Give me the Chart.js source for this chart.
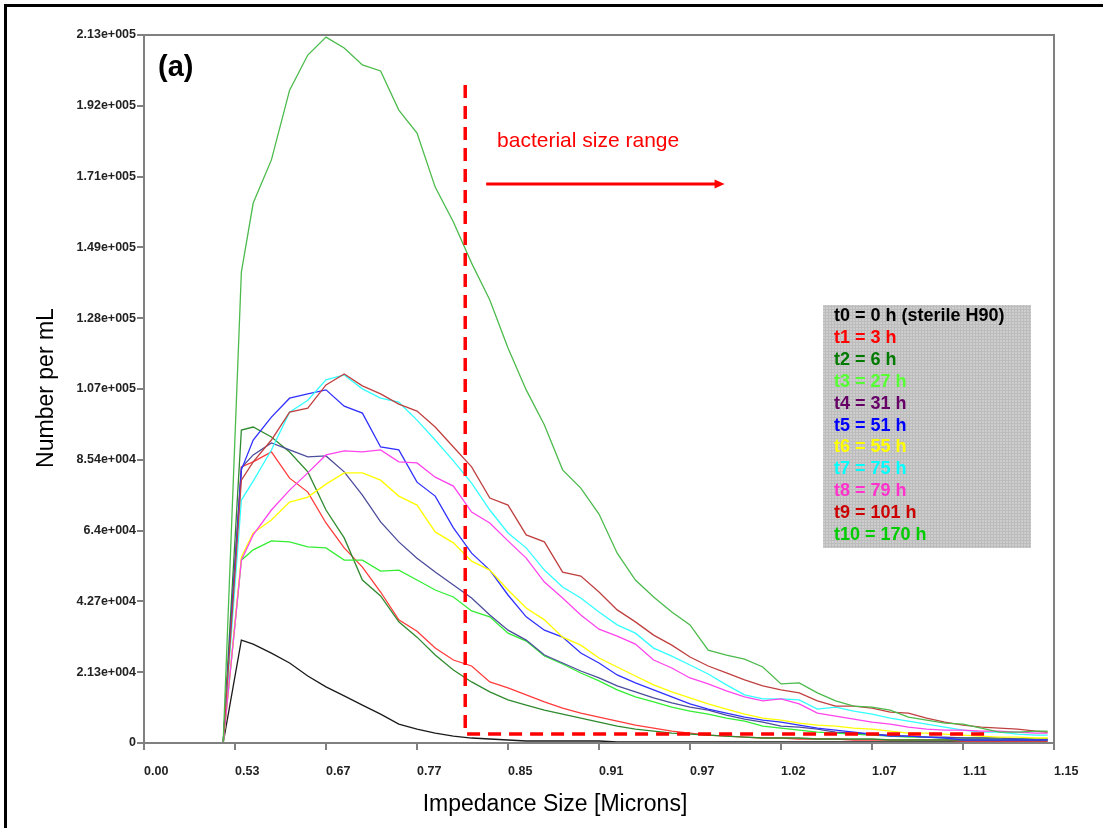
<!DOCTYPE html>
<html>
<head>
<meta charset="utf-8">
<script src="https://cdn.jsdelivr.net/npm/chart.js@4.4.0/dist/chart.umd.min.js"></script>
<style>
  html, body { margin: 0; padding: 0; background: #fff; }
  canvas { display: block; }
</style>
</head>
<body>
<canvas id="grafico" width="1103" height="828"></canvas>
<script>
// posicao dos canais (0..10 = marcas do eixo x)
const xPos = [0, 0.87, 1.07, 1.2, 1.4, 1.6, 1.8, 2.0, 2.2, 2.4, 2.6, 2.8, 3.0, 3.2, 3.4, 3.6, 3.8, 4.0,
  4.2, 4.4, 4.6, 4.8, 5.0, 5.2, 5.4, 5.6, 5.8, 6.0, 6.2, 6.4, 6.6, 6.8, 7.0, 7.2, 7.4, 7.6, 7.8, 8.0,
  8.2, 8.4, 8.6, 8.8, 9.0, 9.2, 9.4, 9.6, 9.8, 9.93];
const xTickLabels = ['0.00', '0.53', '0.67', '0.77', '0.85', '0.91', '0.97', '1.02', '1.07', '1.11', '1.15'];
const yTickValues = [0, 21333, 42667, 64000, 85333, 106667, 128000, 149333, 170667, 192000, 213333];
const yTickLabels = ['0', '2.13e+004', '4.27e+004', '6.4e+004', '8.54e+004', '1.07e+005', '1.28e+005',
  '1.49e+005', '1.71e+005', '1.92e+005', '2.13e+005'];

const t0 = [0, 0, 31000, 29800, 27100, 24100, 20200, 16900, 14200, 11400, 8700, 5700, 4200, 3000, 2100, 1500,
  1200, 900, 600, 600, 600, 600, 600, 300, 300, 300, 300, 300, 300, 300, 300, 300, 300, 300, 300, 300, 300,
  300, 300, 300, 300, 300, 300, 300, 300, 300, 300, 300];
const t1 = [0, 0, 83200, 84700, 87700, 79800, 75600, 66300, 58800, 53000, 45500, 37100, 33700, 28600, 25000,
  23200, 18400, 16600, 14500, 12400, 10500, 9000, 7800, 6600, 5400, 4500, 3600, 3000, 2400, 2100, 1800, 1500,
  1500, 1200, 1200, 1200, 900, 900, 900, 900, 900, 900, 600, 600, 600, 600, 600, 600];
const t2 = [0, 0, 94300, 95200, 92200, 87700, 81700, 70200, 61800, 49100, 44300, 36500, 31900, 26500, 22000,
  18400, 15400, 13000, 11400, 9900, 8700, 7500, 6300, 5100, 4200, 3600, 3000, 2700, 2400, 2100, 1800, 1500,
  1500, 1500, 1200, 1200, 1200, 1200, 900, 900, 900, 900, 900, 900, 900, 900, 900, 900];
const t3 = [0, 0, 55100, 58200, 60900, 60600, 59100, 58800, 55100, 55100, 51800, 52100, 49100, 46100, 44000,
  39800, 38000, 33100, 30700, 26200, 23800, 21100, 18700, 16000, 13900, 12400, 10800, 9600, 8700, 7500, 6600,
  5100, 4500, 3900, 3300, 3000, 2700, 2400, 2100, 1800, 1800, 1500, 1500, 1500, 1200, 1200, 1200, 1200];
const t4 = [0, 0, 82900, 86800, 90400, 88300, 86200, 86500, 81700, 74700, 66600, 60600, 55700, 51500, 47600,
  43700, 38600, 34000, 31000, 26500, 24100, 21700, 19600, 17200, 15400, 13600, 12100, 10800, 9900, 8400, 7200,
  6300, 5100, 4800, 4200, 3300, 3000, 2700, 2400, 2100, 1800, 1800, 1500, 1500, 1500, 1200, 1200, 1200];
const t5 = [0, 0, 82300, 91300, 98200, 103900, 105200, 106400, 101500, 99400, 89200, 88300, 78600, 74400, 64800,
  57200, 52100, 44600, 38000, 34000, 31900, 27100, 24100, 20500, 18100, 16000, 13900, 11800, 10200, 9000, 7800,
  6900, 6300, 5400, 4500, 3900, 3300, 2700, 2100, 2100, 1800, 1500, 900, 900, 900, 900, 900, 900];
const t6 = [0, 0, 56000, 63300, 67200, 72600, 74100, 78000, 81400, 81400, 79200, 74400, 71700, 63600, 60300,
  54800, 52100, 46100, 40700, 37100, 31900, 29500, 25600, 22900, 20200, 17500, 15400, 13600, 11800, 10200, 8700,
  7500, 6900, 6000, 5400, 5100, 4500, 4200, 3600, 3000, 3000, 2700, 2400, 2100, 1800, 1800, 1500, 1500];
const t7 = [0, 0, 73200, 78900, 88300, 99700, 103300, 109400, 110900, 106700, 103900, 102700, 97300, 91300, 85000,
  78300, 70200, 63300, 58800, 52100, 47000, 43700, 39500, 35600, 33100, 28600, 26200, 23500, 20800, 17500, 14500,
  13300, 13300, 13000, 10200, 10800, 9600, 8700, 7500, 6600, 5700, 4800, 3900, 3300, 3300, 2700, 2400, 2400];
const t8 = [0, 0, 55100, 62700, 70200, 76200, 81400, 86800, 88000, 87700, 88300, 84700, 84400, 80100, 77400,
  69600, 66300, 60900, 55700, 48500, 43700, 38600, 34300, 32200, 29800, 25000, 22600, 19600, 17800, 15700, 13900,
  12700, 13300, 11800, 9000, 8100, 7200, 6300, 5700, 4800, 4200, 3900, 3900, 3600, 3600, 3300, 3000, 3000];
const t9 = [0, 0, 79200, 84700, 91300, 99700, 100900, 107900, 111200, 107600, 105200, 102100, 100000, 95200, 89200,
  83200, 73800, 71700, 62700, 60600, 51500, 50300, 45500, 40100, 36500, 32500, 29500, 25900, 23200, 21100, 19000,
  17200, 16000, 15100, 12700, 11100, 11100, 10500, 9300, 9000, 7500, 6300, 5400, 4800, 4500, 4200, 3600, 3300];
const t10 = [0, 0, 141900, 162700, 175700, 196700, 207300, 212700, 209400, 204300, 202500, 190700, 183800, 167500,
  157000, 144600, 133500, 119000, 106400, 95800, 82300, 76800, 69000, 57200, 49100, 44000, 39500, 35600, 28000,
  26500, 25300, 22900, 17800, 18100, 15100, 12700, 11100, 10800, 9900, 7800, 6900, 6000, 5700, 4500, 3300, 3300,
  3600, 3600];

const series = [t0, t1, t2, t3, t4, t5, t6, t7, t8, t9, t10];
const seriesNames = ['t0 = 0 h (sterile H90)', 't1 = 3 h', 't2 = 6 h', 't3 = 27 h', 't4 = 31 h', 't5 = 51 h',
  't6 = 55 h', 't7 = 75 h', 't8 = 79 h', 't9 = 101 h', 't10 = 170 h'];
const lineColors = ['#1a1a1a', '#ff3b3b', '#2f8a2f', '#33ee33', '#4c4c9c', '#3030ff', '#ffff00', '#33ffff',
  '#ff44ee', '#c04040', '#4cbb4c'];
const legendColors = ['#000000', '#ff0000', '#007a00', '#55ff33', '#660066', '#0000ff', '#ffff00', '#00ffff',
  '#ff33cc', '#cc0000', '#00cc00'];

// faixa de tamanho bacteriano (linha tracejada e seta)
const rangeStart = 3.53, rangeEnd = 9.32, rangeTop = 198300, rangeFloor = 2700;
const arrowFrom = 3.76, arrowTo = 6.38, arrowLevel = 168400;
const labelX = 3.88, labelLevel = 179600;

const FONT = "'Liberation Sans', Arial, sans-serif";

function padraoLegenda(ctx) {
    const c = document.createElement('canvas');
    c.width = 3; c.height = 3;
    const p = c.getContext('2d');
    p.fillStyle = '#cdcdcd';
    p.fillRect(0, 0, 3, 3);
    p.fillStyle = '#bcbcbc';
    p.fillRect(0, 0, 3, 1);
    p.fillRect(0, 0, 1, 3);
    return ctx.createPattern(c, 'repeat');
}

const extras = {
    id: 'extras',
    afterDraw(chart) {
        const ctx = chart.ctx;
        const a = chart.chartArea;
        const sx = chart.scales.x, sy = chart.scales.y;
        ctx.save();

        // moldura do grafico
        ctx.strokeStyle = '#808080';
        ctx.lineWidth = 2;
        ctx.strokeRect(a.left, a.top, a.right - a.left, a.bottom - a.top);

        // borda externa
        ctx.strokeStyle = '#000';
        ctx.lineWidth = 3;
        ctx.beginPath();
        ctx.moveTo(5.5, 828);
        ctx.lineTo(5.5, 5.5);
        ctx.lineTo(1103, 5.5);
        ctx.stroke();

        // titulos dos eixos
        ctx.fillStyle = '#000';
        ctx.font = '23px ' + FONT;
        ctx.textAlign = 'center';
        ctx.textBaseline = 'alphabetic';
        ctx.fillText('Impedance Size [Microns]', 555, 811);
        ctx.save();
        ctx.translate(53, 388);
        ctx.rotate(-Math.PI / 2);
        ctx.fillText('Number per mL', 0, 0);
        ctx.restore();

        // (a)
        ctx.textAlign = 'left';
        ctx.font = 'bold 29px ' + FONT;
        ctx.fillText('(a)', 158, 76);

        // texto e seta
        ctx.fillStyle = '#ff0000';
        ctx.strokeStyle = '#ff0000';
        ctx.font = '21px ' + FONT;
        ctx.fillText('bacterial size range', sx.getPixelForValue(labelX), sy.getPixelForValue(labelLevel));
        const ax0 = sx.getPixelForValue(arrowFrom);
        const ax1 = sx.getPixelForValue(arrowTo);
        const ay = sy.getPixelForValue(arrowLevel);
        ctx.lineWidth = 3;
        ctx.beginPath();
        ctx.moveTo(ax0, ay);
        ctx.lineTo(ax1 - 8, ay);
        ctx.stroke();
        ctx.beginPath();
        ctx.moveTo(ax1, ay);
        ctx.lineTo(ax1 - 10, ay - 4.5);
        ctx.lineTo(ax1 - 10, ay + 4.5);
        ctx.closePath();
        ctx.fill();

        // legenda
        ctx.fillStyle = padraoLegenda(ctx);
        ctx.fillRect(823, 305, 208, 243);
        ctx.font = 'bold 18px ' + FONT;
        seriesNames.forEach((nome, i) => {
            ctx.fillStyle = legendColors[i];
            ctx.fillText(nome, 834, 321 + i * 21.9);
        });
        ctx.restore();
    }
};

function criarGrafico() {
    const datasets = series.map((s, i) => ({
        label: seriesNames[i],
        data: xPos.map((x, j) => ({ x: x, y: s[j] })),
        borderColor: lineColors[i],
        borderWidth: 1.3,
        pointRadius: 0,
        tension: 0,
        order: 11 - i
    }));
    datasets.push({
        label: 'faixa',
        data: [{ x: rangeStart, y: rangeTop }, { x: rangeStart, y: rangeFloor }, { x: rangeEnd, y: rangeFloor }],
        borderColor: '#ff0000',
        borderWidth: 3.5,
        borderDash: [13, 8],
        pointRadius: 0,
        order: 0
    });

    const ctx = document.getElementById('grafico').getContext('2d');
    new Chart(ctx, {
        type: 'line',
        data: { datasets: datasets },
        options: {
            responsive: false,
            animation: false,
            devicePixelRatio: 1,
            layout: { padding: { left: 0, top: 35, right: 49, bottom: 0 } },
            plugins: { legend: { display: false }, tooltip: { enabled: false } },
            scales: {
                x: {
                    type: 'linear',
                    min: 0,
                    max: 10,
                    afterFit: (scale) => { scale.height = 85; },
                    afterBuildTicks: (scale) => { scale.ticks = xTickLabels.map((_, i) => ({ value: i })); },
                    ticks: {
                        align: 'start',
                        maxRotation: 0,
                        padding: 14,
                        color: '#222',
                        font: { family: FONT, size: 12.5, weight: 'bold' },
                        callback: (v) => xTickLabels[Math.round(v)]
                    },
                    grid: { drawOnChartArea: false, drawTicks: true, tickLength: 7, color: '#808080', lineWidth: 2 },
                    border: { display: true, color: '#808080', width: 2 }
                },
                y: {
                    min: 0,
                    max: 213333,
                    afterFit: (scale) => { scale.width = 144; },
                    afterBuildTicks: (scale) => { scale.ticks = yTickValues.map(v => ({ value: v })); },
                    ticks: {
                        padding: 1,
                        color: '#222',
                        font: { family: FONT, size: 12.5, weight: 'bold' },
                        callback: (v, i) => yTickLabels[i]
                    },
                    grid: { drawOnChartArea: false, drawTicks: true, tickLength: 7, color: '#808080', lineWidth: 2 },
                    border: { display: true, color: '#808080', width: 2 }
                }
            }
        },
        plugins: [extras]
    });
}

document.addEventListener('DOMContentLoaded', criarGrafico);
</script>
</body>
</html>
